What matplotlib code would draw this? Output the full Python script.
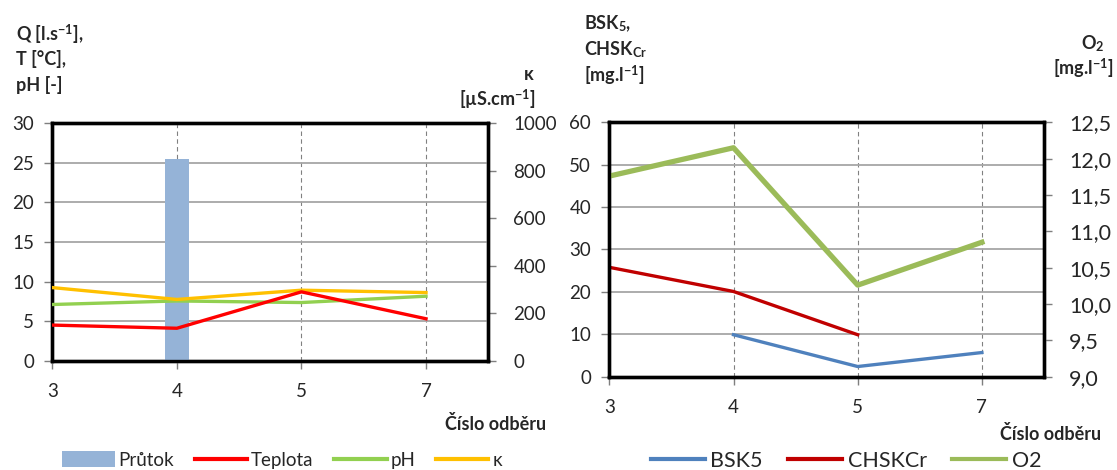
import numpy as np
import matplotlib
matplotlib.use("Agg")
import matplotlib.pyplot as plt
from matplotlib.patches import Patch
from matplotlib.lines import Line2D

plt.rcParams['font.family'] = ['Lato', 'DejaVu Sans']
plt.rcParams['mathtext.fontset'] = 'custom'
plt.rcParams['mathtext.rm'] = 'Lato'
plt.rcParams['mathtext.bf'] = 'Lato:bold'
plt.rcParams['mathtext.it'] = 'Lato:italic'

# ---- data ----
odbery = ['3', '4', '5', '7']

prutok = [np.nan, 25.5, np.nan, np.nan]        # Q [l/s]
teplota = [4.5, 4.1, 8.7, 5.3]                  # T [°C]
ph = [7.1, 7.55, 7.35, 8.15]                    # pH [-]
kappa = [308, 258, 297, 287]                    # κ [µS/cm]

bsk5 = [np.nan, 9.9, 2.4, 5.7]                  # mg/l
chskcr = [25.8, 20.1, 9.9, np.nan]              # mg/l
o2 = [11.76, 12.15, 10.26, 10.85]               # mg/l

W, H = 1117, 470
fig = plt.figure(figsize=(W / 100, H / 100), dpi=100)

def fx(px):
    return px / W

def fy(py):
    return 1 - py / H

TXT = '#262626'
GRID = '#A6A6A6'
FS = 13.5
TFS = 13

def style_axes(ax, ax2):
    for a in (ax, ax2):
        for s in a.spines.values():
            s.set_linewidth(2.4)
            s.set_color('black')
    ax.tick_params(axis='y', direction='out', length=6, width=1, color='#7f7f7f',
                   labelsize=FS, labelcolor=TXT, pad=7)
    ax2.tick_params(axis='y', direction='out', length=6, width=1, color='#7f7f7f',
                    labelsize=FS, labelcolor=TXT, pad=12)
    ax.tick_params(axis='x', direction='out', length=6, width=1, color='#7f7f7f',
                   labelsize=FS, labelcolor=TXT, pad=10)
    ax.set_axisbelow(True)
    ax.grid(axis='y', color=GRID, linewidth=1.3, linestyle='-')
    ax.grid(axis='x', color='#808080', linewidth=0.8, linestyle=(0, (4, 3)))
    ax.set_xlim(0, 3.5)
    ax.set_xticks(range(len(odbery)))
    ax.set_xticklabels(odbery)

def label(xp, yp, s, ha='left'):
    fig.text(fx(xp), fy(yp), s, fontsize=TFS, fontweight='bold', color=TXT,
             ha=ha, va='center_baseline')

# ---------- left chart ----------
x = np.arange(len(odbery))
axL = fig.add_axes([fx(52.3), fy(360.7), fx(488.3 - 52.3), (360.7 - 123.3) / H])
axL2 = axL.twinx()

axL.set_ylim(0, 30)
axL.set_yticks(np.arange(0, 31, 5))
axL2.set_ylim(0, 1000)
axL2.set_yticks(np.arange(0, 1001, 200))
style_axes(axL, axL2)

# the secondary axes is kept only for its scale; all marks live on axL so
# that the lines sit above the bar
axL.set_zorder(axL2.get_zorder() + 1)
axL.patch.set_visible(False)
axL.bar(x, prutok, width=0.19, color='#95B3D7', zorder=2)
axL.plot(x, ph, color='#92D050', linewidth=2.4, zorder=3)
kappa_on_left = axL2.transData + axL.transData.inverted()
kap_pts = kappa_on_left.transform(np.column_stack([x, kappa]))
axL.plot(kap_pts[:, 0], kap_pts[:, 1], color='#FFC000', linewidth=2.4, zorder=3.5)
axL.plot(x, teplota, color='#FF0000', linewidth=2.4, zorder=4)

label(16, 32, r'Q [l.s$^{\mathbf{-1}}$],')
label(16, 58, 'T [°C],')
label(16, 84, 'pH [-]')
label(534, 73, 'κ', ha='right')
label(536, 97, r'[µS.cm$^{\mathbf{-1}}$]', ha='right')
label(546, 423, 'Číslo odběru', ha='right')

handlesL = [Patch(facecolor='#95B3D7'),
            Line2D([], [], color='#FF0000', linewidth=3),
            Line2D([], [], color='#92D050', linewidth=3),
            Line2D([], [], color='#FFC000', linewidth=3)]
fig.legend(handlesL, ['Průtok', 'Teplota', 'pH', 'κ'], loc='center',
           bbox_to_anchor=(fx(282), fy(460)), ncol=4, frameon=False,
           fontsize=FS, handlelength=2.8, handletextpad=0.2, columnspacing=1.1,
           labelcolor=TXT, handleheight=0.9)

# ---------- right chart ----------
axR = fig.add_axes([fx(609.3), fy(376.7), fx(1044 - 609.3), (376.7 - 122.3) / H])
axR2 = axR.twinx()

axR.plot(x, bsk5, color='#4F81BD', linewidth=2.4)
axR.plot(x, chskcr, color='#C00000', linewidth=2.4)
axR2.plot(x, o2, color='#9BBB59', linewidth=3.8)

axR.set_ylim(0, 60)
axR.set_yticks(np.arange(0, 61, 10))
o2_ticks = np.arange(9.0, 12.51, 0.5)
axR2.set_ylim(9.0, 12.5)
axR2.set_yticks(o2_ticks)
axR2.set_yticklabels([f'{v:.1f}'.replace('.', ',') for v in o2_ticks])
style_axes(axR, axR2)
axR2.tick_params(axis='y', labelsize=15.5, pad=12)

label(584, 21, r'BSK$_{\mathbf{5}}$,')
label(584, 47, r'CHSK$_{\mathbf{Cr}}$')
label(584, 73, r'[mg.l$^{\mathbf{-1}}$]')
label(1104, 41, r'O$_{\mathbf{2}}$', ha='right')
label(1113, 66, r'[mg.l$^{\mathbf{-1}}$]', ha='right')
label(1101, 433, 'Číslo odběru', ha='right')

handlesR = [Line2D([], [], color='#4F81BD', linewidth=3),
            Line2D([], [], color='#C00000', linewidth=3),
            Line2D([], [], color='#9BBB59', linewidth=3)]
fig.legend(handlesR, ['BSK5', 'CHSKCr', 'O2'], loc='center',
           bbox_to_anchor=(fx(846), fy(461)), ncol=3, frameon=False,
           fontsize=15.5, handlelength=2.5, handletextpad=0.25, columnspacing=1.2,
           labelcolor=TXT)

fig.savefig('out.png', dpi=100)
